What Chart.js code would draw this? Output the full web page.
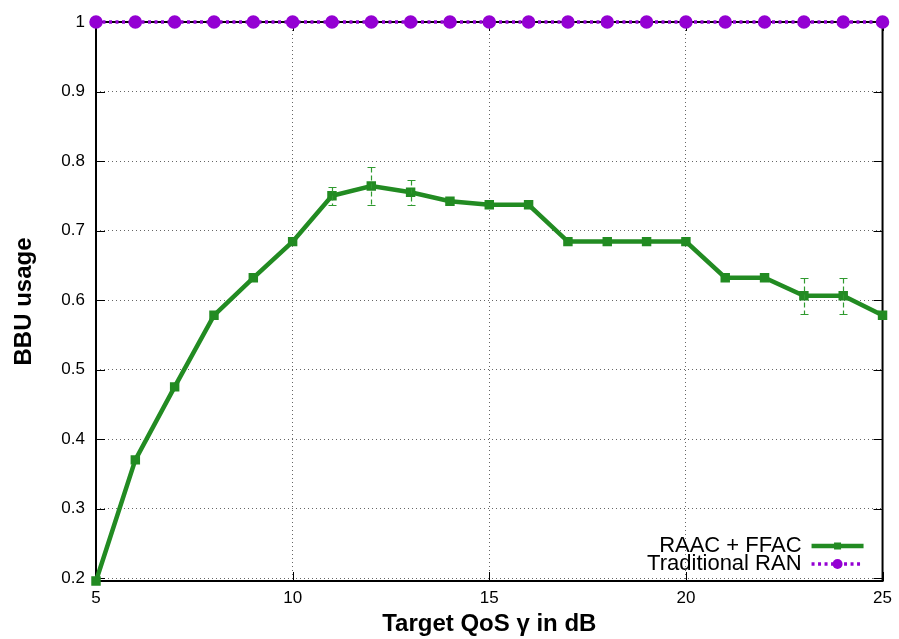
<!DOCTYPE html>
<html>
<head>
<meta charset="utf-8">
<script src="https://cdn.jsdelivr.net/npm/chart.js@4/dist/chart.umd.min.js"></script>
<style>
  body { margin: 0; background: #fff; }
  #wrap { width: 899px; height: 639px; }
</style>
</head>
<body>
<div id="wrap"><canvas id="myChart" width="899" height="639"></canvas></div>
<script>
// data
const qos = [5, 6, 7, 8, 9, 10, 11, 12, 13, 14, 15, 16, 17, 18, 19, 20, 21, 22, 23, 24, 25];
const raacFfac = [0.1957, 0.370, 0.475, 0.578, 0.632, 0.684, 0.750, 0.764, 0.755, 0.742, 0.737, 0.737,
                  0.684, 0.684, 0.684, 0.684, 0.632, 0.632, 0.606, 0.606, 0.578];
const raacErr = [0, 0, 0, 0, 0, 0, 0.013, 0.027, 0.018, 0, 0, 0, 0, 0, 0, 0, 0, 0, 0.026, 0.026, 0];
const traditional = [1, 1, 1, 1, 1, 1, 1, 1, 1, 1, 1, 1, 1, 1, 1, 1, 1, 1, 1, 1, 1];
const xTicks = [5, 10, 15, 20, 25];
const yTicks = [0.2, 0.3, 0.4, 0.5, 0.6, 0.7, 0.8, 0.9, 1];
const seriesNames = ['RAAC + FFAC', 'Traditional RAN'];

const GREEN = '#228b22';
const VIOLET = '#9400d3';

function toPoints(vals) {
    let pts = [];
    for (let i = 0; i < qos.length; i++)
        pts.push({x: qos[i], y: vals[i]});
    return pts;
}

// frame with inward ticks on all four sides (gnuplot style)
const framePlugin = {
    id: 'frame',
    beforeDatasetsDraw(chart) {
        const ctx = chart.ctx;
        const a = chart.chartArea;
        const xs = chart.scales.x, ys = chart.scales.y;
        ctx.save();
        ctx.strokeStyle = '#000';
        ctx.lineWidth = 2;
        ctx.setLineDash([]);
        ctx.strokeRect(a.left, a.top, a.right - a.left, a.bottom - a.top);
        ctx.lineWidth = 1;
        ctx.beginPath();
        for (const t of xTicks) {
            const px = Math.round(xs.getPixelForValue(t)) + 0.5;
            ctx.moveTo(px, a.bottom); ctx.lineTo(px, a.bottom - 9);
            ctx.moveTo(px, a.top); ctx.lineTo(px, a.top + 9);
        }
        for (const t of yTicks) {
            const py = Math.round(ys.getPixelForValue(t)) + 0.5;
            ctx.moveTo(a.left, py); ctx.lineTo(a.left + 9, py);
            ctx.moveTo(a.right, py); ctx.lineTo(a.right - 9, py);
        }
        ctx.stroke();
        ctx.restore();
    }
};

// dashed error bars for the RAAC + FFAC series
const errorBarPlugin = {
    id: 'errbars',
    afterDatasetsDraw(chart) {
        const ctx = chart.ctx;
        const xs = chart.scales.x, ys = chart.scales.y;
        ctx.save();
        ctx.strokeStyle = '#2f9a2f';
        ctx.lineWidth = 1.2;
        for (let i = 0; i < qos.length; i++) {
            if (!raacErr[i]) continue;
            const px = Math.round(xs.getPixelForValue(qos[i])) + 0.5;
            const top = Math.round(ys.getPixelForValue(raacFfac[i] + raacErr[i])) + 0.5;
            const bot = Math.round(ys.getPixelForValue(raacFfac[i] - raacErr[i])) + 0.5;
            ctx.setLineDash([5, 3]);
            ctx.beginPath();
            ctx.moveTo(px, top); ctx.lineTo(px, bot);
            ctx.stroke();
            ctx.setLineDash([]);
            ctx.beginPath();
            ctx.moveTo(px - 4, top); ctx.lineTo(px + 4, top);
            ctx.moveTo(px - 4, bot); ctx.lineTo(px + 4, bot);
            ctx.stroke();
        }
        ctx.restore();
    }
};

// key in the lower right corner: text right-aligned, sample to the right
const keyPlugin = {
    id: 'key',
    afterDraw(chart) {
        const ctx = chart.ctx;
        const a = chart.chartArea;
        const sx0 = a.right - 71, sx1 = a.right - 19, sm = (sx0 + sx1) / 2;
        const rows = [a.bottom - 35, a.bottom - 17];
        ctx.save();
        ctx.font = '22px "Liberation Sans", Arial, sans-serif';
        ctx.fillStyle = '#000';
        ctx.textAlign = 'right';
        ctx.textBaseline = 'middle';
        ctx.fillText(seriesNames[0], sx0 - 10, rows[0]);
        ctx.fillText(seriesNames[1], sx0 - 10, rows[1]);

        ctx.strokeStyle = GREEN;
        ctx.lineWidth = 4.5;
        ctx.beginPath(); ctx.moveTo(sx0, rows[0]); ctx.lineTo(sx1, rows[0]); ctx.stroke();
        ctx.fillStyle = GREEN;
        ctx.fillRect(sm - 3.5, rows[0] - 3.5, 7, 7);

        ctx.strokeStyle = VIOLET;
        ctx.lineWidth = 3.5;
        ctx.setLineDash([3, 3.5]);
        ctx.beginPath(); ctx.moveTo(sx0, rows[1]); ctx.lineTo(sx1, rows[1]); ctx.stroke();
        ctx.fillStyle = VIOLET;
        ctx.beginPath(); ctx.arc(sm, rows[1], 5, 0, Math.PI * 2); ctx.fill();
        ctx.restore();
    }
};

const tickFont = {family: '"Liberation Sans", Arial, sans-serif', size: 17};
const titleFont = {family: '"Liberation Sans", Arial, sans-serif', size: 24, weight: 'bold'};

var ctx = document.getElementById('myChart');
var myChart = new Chart(ctx, {
    type: 'line',
    data: {
        datasets: [{
            label: seriesNames[0],
            data: toPoints(raacFfac),
            borderColor: GREEN,
            backgroundColor: GREEN,
            borderWidth: 4.5,
            pointStyle: 'rect',
            pointRadius: 3.5,
            pointHoverRadius: 3.5,
            tension: 0,
            clip: false
        }, {
            label: seriesNames[1],
            data: toPoints(traditional),
            borderColor: VIOLET,
            backgroundColor: VIOLET,
            borderWidth: 3.5,
            borderDash: [3, 3.5],
            pointStyle: 'circle',
            pointRadius: 5,
            pointHoverRadius: 5,
            tension: 0,
            clip: false
        }]
    },
    options: {
        responsive: false,
        animation: false,
        events: [],
        layout: {
            padding: {top: 22, right: 15, left: 0, bottom: 0}
        },
        plugins: {
            legend: {display: false},
            tooltip: {enabled: false}
        },
        scales: {
            x: {
                type: 'linear',
                min: 5,
                max: 25,
                afterBuildTicks: (s) => { s.ticks = xTicks.map(v => ({value: v})); },
                afterFit: (s) => { s.height = 58; },
                ticks: {
                    font: tickFont,
                    color: '#000',
                    padding: 7,
                    maxRotation: 0,
                    callback: (v) => String(v)
                },
                grid: {color: '#666', lineWidth: 1, drawTicks: false},
                border: {display: false, dash: [1, 3]},
                title: {
                    display: true,
                    text: 'Target QoS γ in dB',
                    font: titleFont,
                    color: '#000',
                    padding: {top: 0, bottom: 0}
                }
            },
            y: {
                min: 0.1957,
                max: 1,
                afterBuildTicks: (s) => { s.ticks = yTicks.map(v => ({value: v})); },
                afterFit: (s) => { s.width = 96; },
                ticks: {
                    font: tickFont,
                    color: '#000',
                    padding: 11,
                    callback: (v) => String(Math.round(v * 10) / 10)
                },
                grid: {color: '#666', lineWidth: 1, drawTicks: false},
                border: {display: false, dash: [1, 3]},
                title: {
                    display: true,
                    text: 'BBU usage',
                    font: titleFont,
                    color: '#000',
                    padding: {top: 10, bottom: 0}
                }
            }
        }
    },
    plugins: [framePlugin, errorBarPlugin, keyPlugin]
});
</script>
</body>
</html>
